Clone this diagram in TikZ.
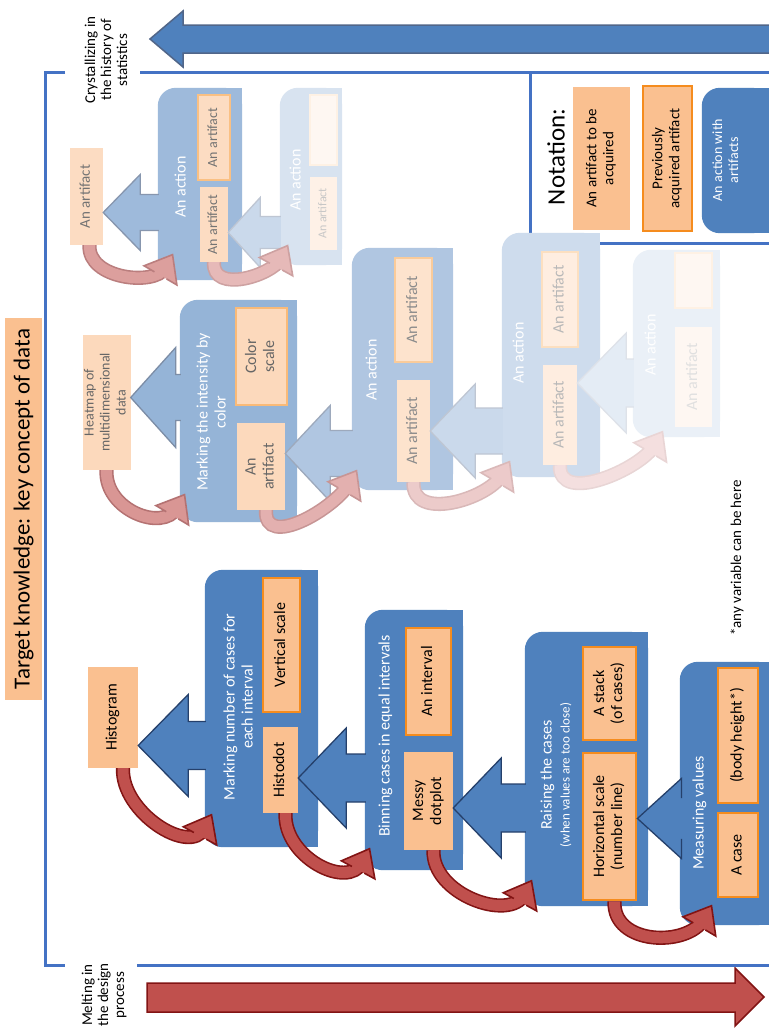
\documentclass[tikz,border=0pt]{standalone}
\usepackage{fontspec}
\setmainfont{Carlito}
\usepackage{graphicx}
\usetikzlibrary{calc,decorations.markings}
\definecolor{bblue}{RGB}{79,129,189}
\definecolor{dblue}{RGB}{37,64,107}
\definecolor{fblue}{RGB}{68,114,196}
\definecolor{peach}{RGB}{250,192,144}
\definecolor{obord}{RGB}{245,140,30}
\definecolor{rfill}{RGB}{192,80,77}
\definecolor{rline}{RGB}{130,20,20}
\newcommand\rt[1]{\rotatebox{90}{\begin{tabular}{@{}c@{}}#1\end{tabular}}}
\tikzset{
 art/.style={fill=peach!#1!white, text=black!#1!white, inner sep=0pt, font=\fontsize{16}{18}\selectfont},
 art/.default=100,
 prev/.style={art=#1, draw=obord!#1!white, line width=2.8pt},
 prev/.default=100,
 ttl/.style={text=white, inner sep=0pt, font=\fontsize{16}{18}\selectfont},
 framel/.style={fblue, line width=3pt},
}
% block with rounded left corners
\newcommand\blk[6]{%
 \node[inner sep=0pt, minimum width={#4-#2}, minimum height={#5-#3}] (#1) at ({(#2+#4)/2},{(#3+#5)/2}) {};
 \fill[bblue!#6!white, rounded corners=18pt] (#1.north west) rectangle (#1.south east);
 \fill[bblue!#6!white] (#1.north) rectangle (#1.south east);
}
% artifact box
\newcommand\bx[7]{%
 \node[#6, minimum width={#4-#2}, minimum height={#5-#3}] (#1) at ({(#2+#4)/2},{(#3+#5)/2}) {\rt{#7}};
}
% block arrow: target, source block, fade, head length, head half width, shaft half width, offset
\newcommand\barr[7]{%
 \fill[bblue!#3!white] let \p1=($(#1.east)+(0,#7)$), \p2=(#2.west) in
   (\x1,\y1) -- (\x1+#4pt,\y1+#5pt) -- (\x1+#4pt,\y1+#6pt) -- (\x2+1pt,\y1+#6pt) -- (\x2+1pt,\y1-#6pt) -- (\x1+#4pt,\y1-#6pt) -- (\x1+#4pt,\y1-#5pt) -- cycle;
 \draw[dblue!#3!white, line width=1.3pt, line join=miter] let \p1=($(#1.east)+(0,#7)$), \p2=(#2.west) in
   (\x2+1pt,\y1+#6pt) -- (\x1+#4pt,\y1+#6pt) -- (\x1+#4pt,\y1+#5pt) -- (\x1,\y1) -- (\x1+#4pt,\y1-#5pt) -- (\x1+#4pt,\y1-#6pt) -- (\x2+1pt,\y1-#6pt);
}
% red curved arrow: start, end, fade, control1 offset (from start), control2 offset (from end)
\newcommand\rarr[5]{%
 \coordinate (rs) at #1;
 \coordinate (re) at #2;
 \path[postaction={draw=rline!#3!white, double=rfill!#3!white, double distance=11pt, line width=1.6pt, shorten >=16pt},
       postaction={decorate, decoration={markings, mark=at position 0.995 with {%
          \fill[rfill!#3!white] (0pt,0pt) -- (-24pt,19pt) -- (-24pt,-19pt) -- cycle;
          \draw[rline!#3!white, line width=1.6pt, line join=miter] (-24pt,7pt) -- (-24pt,19pt) -- (0pt,0pt) -- (-24pt,-19pt) -- (-24pt,-7pt);}}}]
   (rs) .. controls ($(rs)+(#4)$) and ($(re)+(#5)$) .. (re);
}
\begin{document}
\begin{tikzpicture}[x=1pt,y=-1pt]
\useasboundingbox (0,0) rectangle (769,1029);
\fill[white] (0,0) rectangle (769,1029);

% big arrows
\filldraw[fill=bblue, draw=dblue!80, line width=1.5pt, line join=miter]
  (150,39) -- (183,11) -- (183,25) -- (775,25) -- (775,53) -- (183,53) -- (183,67) -- cycle;
\filldraw[fill=rfill, draw=rline, line width=1.5pt, line join=miter]
  (147,983) -- (735,983) -- (735,968) -- (764,997) -- (735,1026) -- (735,1012) -- (147,1012) -- cycle;
\node[font=\fontsize{15}{16}\selectfont, inner sep=0pt] (cry) at (108,60) {\rt{Crystallizing in\\the history of\\statistics}};
\node[font=\fontsize{15}{16}\selectfont, inner sep=0pt] (melt) at (105,995) {\rt{Melting in\\the design\\process}};

% frame
\draw[framel] (65,72) -- (45,72) -- (45,965) -- (65,965);
\draw[framel] (140,72) -- (775,72);
\draw[framel] (137,965) -- (775,965);
\draw[framel] (530,72) -- (530,243) -- (775,243);

% title
\node[fill=peach, inner sep=0pt, minimum width=37, minimum height=382, font=\fontsize{23}{26}\selectfont] (title) at (23.5,509) {\rotatebox{90}{Target knowledge: key concept of data}};

% notation
\node[inner sep=0pt, font=\fontsize{25}{28}\selectfont] (nt) at (556,157) {\rotatebox{90}{Notation:}};
\bx{na}{573}{87}{630}{230}{art, font=\fontsize{15}{17}\selectfont}{An artifact to be\\acquired}
\bx{nb}{643}{86}{692}{231}{prev, font=\fontsize{15}{17}\selectfont}{Previously\\acquired artifact}
\blk{nc}{702}{88}{770}{233}{100}
\node[ttl, font=\fontsize{14}{16}\selectfont] (nct) at (727,160) {\rt{An action with\\artifacts}};

% ---- faded chain B ----
\bx{bart}{70}{148}{103}{245}{art=55, font=\fontsize{15}{17}\selectfont}{An artifact}
\blk{b1}{158}{88}{242}{280}{55}
\node[ttl] (b1t) at (182,187) {\rt{An action}};
\bx{b1o}{198}{95}{230}{180}{prev=55, font=\fontsize{14}{16}\selectfont}{An artifact}
\bx{b1n}{200}{187}{228}{262}{art=55, font=\fontsize{14}{16}\selectfont}{An artifact}
\blk{b2}{280}{88}{342}{265}{22}
\node[ttl] (b2t) at (297,180) {\rt{An action}};
\bx{b2o}{310}{95}{337}{165}{prev=12}{}
\bx{b2n}{310}{177}{337}{250}{art=22, font=\fontsize{12}{14}\selectfont}{An artifact}

% ---- faded chain A ----
\bx{heat}{85}{335}{128}{470}{art=60, font=\fontsize{14}{16}\selectfont}{Heatmap of\\multidimensional\\data}
\blk{a1}{180}{300}{297}{522}{60}
\node[ttl] (a1t) at (213,412) {\rt{Marking the intensity by\\color}};
\bx{cscale}{236}{308}{287}{405}{prev=60}{Color\\scale}
\bx{aart}{237}{423}{285}{510}{art=60}{An\\artifact}
\blk{a2}{352}{248}{453}{490}{45}
\node[ttl] (a2t) at (373,370) {\rt{An action}};
\bx{a2o}{395}{258}{432}{362}{prev=45}{An artifact}
\bx{a2n}{397}{380}{430}{482}{art=45}{An artifact}
\blk{a3}{502}{233}{600}{477}{28}
\node[ttl] (a3t) at (520,353) {\rt{An action}};
\bx{a3o}{542}{252}{578}{347}{prev=28}{An artifact}
\bx{a3n}{543}{365}{577}{465}{art=28}{An artifact}
\blk{a4}{633}{250}{720}{437}{12}
\node[ttl] (a4t) at (652,345) {\rt{An action}};
\bx{a4o}{675}{253}{712}{308}{prev=12}{}
\bx{a4n}{675}{327}{712}{427}{art=12}{An artifact}

% ---- bold chain ----
\bx{histo}{88}{667}{138}{768}{art}{Histogram}
\blk{blk1}{205}{570}{318}{847}{100}
\node[ttl] (t1) at (240,707) {\rt{Marking number of cases for\\each interval}};
\bx{vscale}{263}{578}{300}{712}{prev}{Vertical scale}
\bx{histodot}{263}{727}{298}{813}{art}{Histodot}
\blk{blk2}{365}{610}{463}{870}{100}
\node[ttl] (t2) at (386,736) {\rt{Binning cases in equal intervals}};
\bx{interval}{406}{628}{451}{735}{prev}{An interval}
\bx{messy}{404}{752}{453}{850}{art}{Messy\\dotplot}
\blk{blk3}{525}{632}{648}{906}{100}
\node[ttl] (t3) at (557,775) {\rt{Raising the cases\\{\fontsize{13}{15}\selectfont(when values are too close)}}};
\bx{stack}{583}{647}{636}{740}{prev}{A stack\\(of cases)}
\bx{hscale}{583}{753}{636}{900}{prev}{Horizontal scale\\(number line)}
\blk{blk4}{680}{662}{775}{925}{100}
\node[ttl] (t4) at (700,813) {\rt{Measuring values}};
\bx{body}{718}{668}{758}{803}{prev}{(body height*)}
\bx{acase}{718}{813}{758}{897}{prev}{A case}
\node[inner sep=0pt, font=\fontsize{15}{17}\selectfont] (note) at (737,558) {\rotatebox{90}{*any variable can be here}};

% ---- blue block arrows ----
\barr{bart}{b1}{55}{37}{38}{18}{16}
\barr{b1n}{b2}{30}{32}{35}{16}{8}
\barr{heat}{a1}{60}{45}{50}{23}{-5}
\barr{aart}{a2}{45}{45}{48}{23}{-13}
\barr{a2n}{a3}{30}{45}{47}{23}{0}
\barr{a3n}{a4}{15}{49}{50}{24}{-32}
\barr{histo}{blk1}{100}{50}{51}{24}{28}
\barr{histodot}{blk2}{100}{48}{50}{24}{8}
\barr{messy}{blk3}{100}{48}{50}{24}{7}
\barr{hscale}{blk4}{100}{44}{40}{21}{-8}

% ---- red curved arrows ----
\rarr{($(bart.south)+(3,0)$)}{($(b1.south west)+(15,-26)$)}{55}{-2,34}{-18,32}
\rarr{($(b1n.south)+(0,0)$)}{($(b2.south west)+(8,-20)$)}{40}{-2,32}{-16,30}
\rarr{($(heat.south)+(0,0)$)}{($(a1.south west)+(5,-28)$)}{60}{-2,40}{-22,38}
\rarr{($(aart.south)+(5,0)$)}{($(a2.south west)+(5,-20)$)}{45}{-2,40}{-22,38}
\rarr{($(a2n.south)+(0,0)$)}{($(a3.south west)+(8,-16)$)}{30}{-2,40}{-22,38}
\rarr{($(a3n.south)+(0,0)$)}{($(a4.south west)+(30,-6)$)}{18}{-2,40}{-22,38}
\rarr{($(histo.south)+(10,0)$)}{($(blk1.south west)+(7,-33)$)}{100}{-2,44}{-22,42}
\rarr{($(histodot.south)+(5,0)$)}{($(blk2.south west)+(5,-22)$)}{100}{-2,44}{-22,42}
\rarr{($(messy.south)+(5,0)$)}{($(blk3.south west)+(7,-26)$)}{100}{-2,44}{-22,42}
\rarr{($(hscale.south)+(5,0)$)}{($(blk4.south west)+(32,-20)$)}{100}{-2,44}{-24,42}
\end{tikzpicture}
\end{document}
